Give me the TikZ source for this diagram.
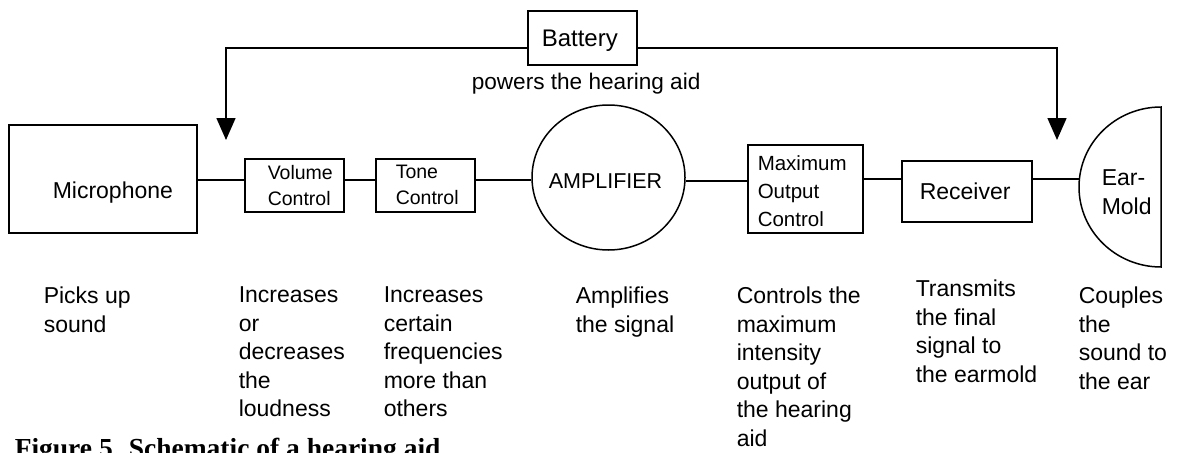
\documentclass[tikz,border=0pt]{standalone}
\usepackage{fontspec}
\setmainfont{Liberation Sans}
\newfontfamily\capfont{Liberation Serif}
\usetikzlibrary{shapes.geometric,arrows.meta}
\begin{document}
\begin{tikzpicture}[x=1pt,y=-1pt, line width=1.5pt,
  box/.style={draw, rectangle, inner sep=0pt},
  lbl/.style={anchor=base west, inner sep=0pt, font=\fontsize{23}{29.7}\selectfont},
  small/.style={anchor=north west, inner sep=0pt, align=left, font=\fontsize{19.5}{26}\selectfont},
  desc/.style={anchor=north west, inner sep=0pt, align=left, font=\fontsize{23}{28.6}\selectfont},
  feed/.style={-{Triangle[width=19pt,length=22pt]}}
]
\useasboundingbox (0,0) rectangle (1198,452);
\clip (0,0) rectangle (1198,452);

% blocks
\node[box, minimum width=188pt, minimum height=108pt] (mic) at (103,179) {};
\node[lbl] (micT) at (52,198) {Microphone};

\node[box, minimum width=99pt, minimum height=53pt] (vol) at (294.5,185.5) {};
\node[small] (volT) at (267,164.8) {Volume\\Control};

\node[box, minimum width=99pt, minimum height=53pt] (tone) at (425.5,185.5) {};
\node[small] (toneT) at (395,164.8) {Tone\\Control};

\node[draw, ellipse, inner sep=0pt, minimum width=153pt, minimum height=145pt] (amp) at (608.5,177.5) {};
\node[lbl, font=\fontsize{21.5}{26}\selectfont] (ampT) at (548,188) {AMPLIFIER};

\node[box, minimum width=115pt, minimum height=88pt] (max) at (805.5,189) {};
\node[anchor=north west, inner sep=0pt, align=left, font=\fontsize{20.5}{28}\selectfont] (maxT) at (757,155) {Maximum\\Output\\Control};

\node[box, minimum width=130pt, minimum height=61pt] (rec) at (967,191.5) {};
\node[lbl] (recT) at (919,199) {Receiver};

\draw (1161,267) arc[start angle=90, end angle=270, x radius=82, y radius=80] -- cycle;
\coordinate (ear) at (1079.5,179);
\node[anchor=north west, inner sep=0pt, align=left, font=\fontsize{23}{29}\selectfont] (earT) at (1101,168.5) {Ear-\\Mold};

\node[box, minimum width=109pt, minimum height=54pt] (bat) at (582.5,38) {};
\node[lbl, font=\fontsize{24}{29}\selectfont] (batT) at (541,47) {Battery};
\node[lbl, font=\fontsize{22.6}{28}\selectfont] (pow) at (471,89) {powers the hearing aid};

% signal chain
\coordinate (bus) at (0,180);
\draw (mic.east |- bus) -- (vol.west |- bus);
\draw (vol.east |- bus) -- (tone.west |- bus);
\draw (tone.east |- bus) -- (amp.west |- bus);
\draw (amp.east |- 0,181) -- (max.west |- 0,181);
\draw (max.east |- 0,179) -- (rec.west |- 0,179);
\draw (rec.east |- ear) -- (ear);

% battery feeds
\coordinate (fy) at (0,48);
\coordinate (volIn) at (226,140);
\coordinate (earIn) at (1057,140);
\draw[feed] (bat.west |- fy) -| (volIn);
\draw[feed] (bat.east |- fy) -| (earIn);

% descriptions
\node[desc] (d1) at (43,286) {Picks up\\sound};
\node[desc] (d2) at (238,286) {Increases\\or\\decreases\\the\\loudness};
\node[desc] (d3) at (383,286) {Increases\\certain\\frequencies\\more than\\others};
\node[desc] (d4) at (575,286) {Amplifies\\the signal};
\node[desc] (d5) at (736,286) {Controls the\\maximum\\intensity\\output of\\the hearing\\aid};
\node[desc] (d6) at (915,279) {Transmits\\the final\\signal to\\the earmold};
\node[desc] (d7) at (1078,286) {Couples\\the\\sound to\\the ear};

\node[anchor=base west, inner sep=0pt, font=\capfont\bfseries\fontsize{27.5}{30}\selectfont] (cap) at (14,457) {Figure 5. Schematic of a hearing aid};
\end{tikzpicture}
\end{document}
